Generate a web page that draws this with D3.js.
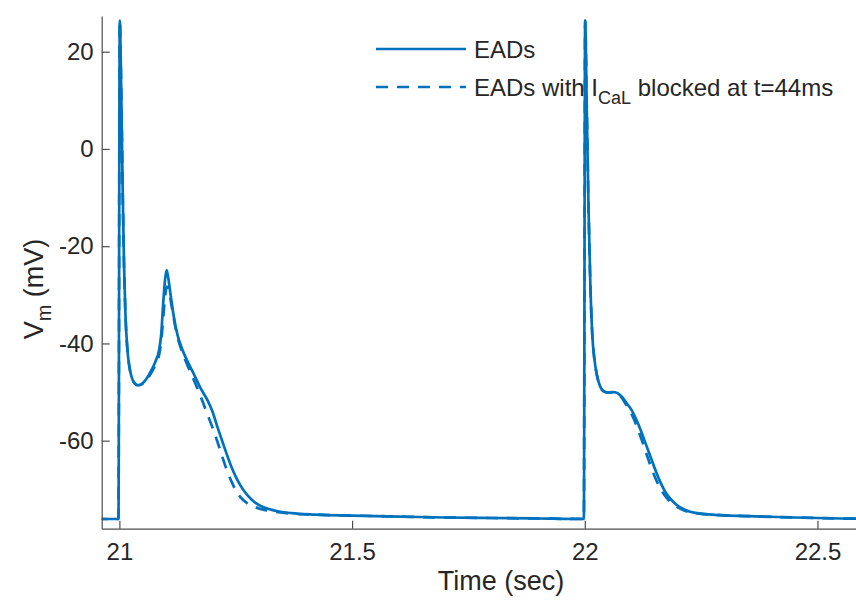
<!DOCTYPE html>
<html>
<head>
<meta charset="utf-8">
<script src="https://cdn.jsdelivr.net/npm/d3@7"></script>
<style>
  html, body { margin: 0; padding: 0; background: #fff; }
  text { font-family: "Liberation Sans", Arial, sans-serif; fill: #262626; }
</style>
</head>
<body>
<div id="chart"></div>
<script>
// membrane potential, control run (EADs)
const timeEAD = [20.95, 20.998, 21.0008, 21.004, 21.007, 21.010, 21.013, 21.017, 21.021, 21.026, 21.032, 21.040,
  21.050, 21.060, 21.070, 21.078, 21.085, 21.090, 21.094, 21.098, 21.1015, 21.105, 21.110, 21.117, 21.125,
  21.135, 21.145, 21.160, 21.175, 21.190, 21.200, 21.210, 21.220, 21.230, 21.240, 21.250, 21.260, 21.275,
  21.290, 21.310, 21.335, 21.370, 21.42, 21.5, 21.6, 21.7, 21.8, 21.9, 21.998,
  22.0008, 22.004, 22.008, 22.012, 22.016, 22.021, 22.026, 22.032, 22.040, 22.050, 22.062, 22.072, 22.080,
  22.090, 22.100, 22.110, 22.120, 22.130, 22.140, 22.150, 22.160, 22.170, 22.180, 22.195, 22.215, 22.240,
  22.29, 22.35, 22.45, 22.55, 22.65];
const vmEAD = [-76.1, -76.1, 26.4, 12, -8, -24, -34, -41, -44.5, -46.8, -48.1, -48.6,
  -48.2, -47, -45.3, -43.6, -41.5, -38, -32, -27, -24.9, -26.5, -30, -34.5, -38.3,
  -41.2, -43.4, -46.3, -49.3, -51.8, -54, -57, -59.8, -62.6, -65.2, -67.4, -69.2, -71.2,
  -72.6, -73.7, -74.4, -74.9, -75.2, -75.4, -75.6, -75.8, -75.9, -76.0, -76.1,
  26.4, 10, -12, -28, -38, -43.5, -46.5, -48.6, -49.8, -50.1, -50.0, -50.3, -51,
  -52.3, -53.6, -55.5, -57.8, -60.4, -63, -65.6, -68, -70, -71.5, -73, -74.2, -74.9,
  -75.3, -75.5, -75.8, -76.0, -76.1];

// membrane potential with I_CaL blocked at t=44ms
const timeBlock = [20.95, 20.998, 21.0008, 21.004, 21.007, 21.010, 21.013, 21.017, 21.021, 21.026, 21.032, 21.040,
  21.050, 21.060, 21.070, 21.078, 21.085, 21.090, 21.094, 21.098, 21.102, 21.106, 21.110, 21.117, 21.125,
  21.135, 21.145, 21.160, 21.175, 21.190, 21.200, 21.210, 21.220, 21.230, 21.240, 21.250, 21.260, 21.275,
  21.290, 21.310, 21.335, 21.370, 21.42, 21.5, 21.6, 21.7, 21.8, 21.9, 21.998,
  22.0008, 22.004, 22.008, 22.012, 22.016, 22.021, 22.026, 22.032, 22.040, 22.050, 22.062, 22.072, 22.080,
  22.090, 22.100, 22.110, 22.120, 22.130, 22.140, 22.150, 22.160, 22.170, 22.180, 22.195, 22.215, 22.240,
  22.29, 22.35, 22.45, 22.55, 22.65];
const vmBlock = [-76.1, -76.1, 26.4, 12, -8, -24, -34, -41, -44.5, -46.8, -48.1, -48.6,
  -48.3, -47.3, -45.8, -44.3, -42.5, -39.5, -35, -30.5, -28.3, -29, -31, -35, -38.7,
  -41.8, -44.2, -47.5, -51, -54.8, -57.3, -60, -63, -65.8, -68.2, -70.2, -71.6, -72.9,
  -73.6, -74.2, -74.6, -75.0, -75.2, -75.4, -75.6, -75.8, -75.9, -76.0, -76.1,
  26.4, 10, -12, -28, -38, -43.5, -46.5, -48.6, -49.8, -50.1, -50.0, -50.4, -51.2,
  -52.8, -54.4, -56.6, -59.2, -62, -64.8, -67.3, -69.4, -71, -72.2, -73.4, -74.4, -74.9,
  -75.3, -75.5, -75.8, -76.0, -76.1];

const timeTicks = [21, 21.5, 22, 22.5];
const vmTicks = [-60, -40, -20, 0, 20];

const W = 856, H = 604;
const margin = { top: 16, left: 101.7, bottom: 528.7 };

const svg = d3.select('#chart').append('svg')
  .attr('width', W)
  .attr('height', H);

const x = d3.scaleLinear().domain([20.962, 22.6]).range([margin.left, margin.left + 1.638 * 465.4]);
const y = d3.scaleLinear().domain([-78.1, 27.34]).range([margin.bottom, margin.top]);

svg.append('defs').append('clipPath').attr('id', 'plotClip')
  .append('rect')
  .attr('x', margin.left).attr('y', margin.top)
  .attr('width', W - margin.left).attr('height', margin.bottom - margin.top);

const line = d3.line()
  .x(d => x(d[0]))
  .y(d => y(d[1]))
  .curve(d3.curveMonotoneX);

const color = '#0072BD';
const plot = svg.append('g').attr('clip-path', 'url(#plotClip)');

plot.append('path')
  .datum(d3.zip(timeEAD, vmEAD))
  .attr('fill', 'none')
  .attr('stroke', color)
  .attr('stroke-width', 2.7)
  .attr('stroke-linejoin', 'round')
  .attr('d', line);

plot.append('path')
  .datum(d3.zip(timeBlock, vmBlock))
  .attr('fill', 'none')
  .attr('stroke', color)
  .attr('stroke-width', 2.7)
  .attr('stroke-dasharray', '12,9')
  .attr('d', line);

// axes, ticks pointing inward like matlab
const xAxis = svg.append('g')
  .attr('transform', 'translate(0,' + margin.bottom + ')')
  .call(d3.axisBottom(x).tickValues(timeTicks).tickFormat(d3.format('~g'))
    .tickSizeInner(-8).tickSizeOuter(0).tickPadding(14));

const yAxis = svg.append('g')
  .attr('transform', 'translate(' + margin.left + ',0)')
  .call(d3.axisLeft(y).tickValues(vmTicks).tickFormat(d => d)
    .tickSizeInner(-8).tickSizeOuter(0).tickPadding(8));

[xAxis, yAxis].forEach(a => {
  a.select('.domain').attr('stroke', '#4d4d4d').attr('stroke-width', 1.2);
  a.selectAll('.tick line').attr('stroke', '#4d4d4d').attr('stroke-width', 1.2);
  a.selectAll('.tick text').style('font-size', '24px').attr('fill', '#262626')
    .style('font-family', '"Liberation Sans", Arial, sans-serif');
});

svg.append('text')
  .attr('x', 501)
  .attr('y', 590)
  .attr('text-anchor', 'middle')
  .style('font-size', '27px')
  .text('Time (sec)');

const ylab = svg.append('text')
  .attr('transform', 'translate(43,289) rotate(-90)')
  .attr('text-anchor', 'middle')
  .style('font-size', '27px');
ylab.append('tspan').text('V');
ylab.append('tspan').attr('dy', 8).style('font-size', '20px').text('m');
ylab.append('tspan').attr('dy', -8).text(' (mV)');

// legend
const legend = svg.append('g');
legend.append('line')
  .attr('x1', 376).attr('x2', 466).attr('y1', 49).attr('y2', 49)
  .attr('stroke', color).attr('stroke-width', 2.7);
legend.append('line')
  .attr('x1', 376).attr('x2', 466).attr('y1', 87).attr('y2', 87)
  .attr('stroke', color).attr('stroke-width', 2.7).attr('stroke-dasharray', '12,9');

legend.append('text')
  .attr('x', 474).attr('y', 58)
  .style('font-size', '24px')
  .text('EADs');

const l2 = legend.append('text')
  .attr('x', 474).attr('y', 96)
  .style('font-size', '24px');
l2.append('tspan').text('EADs with I');
l2.append('tspan').attr('dy', 8).style('font-size', '18px').text('CaL');
l2.append('tspan').attr('dy', -8).text(' blocked at t=44ms');
</script>
</body>
</html>
